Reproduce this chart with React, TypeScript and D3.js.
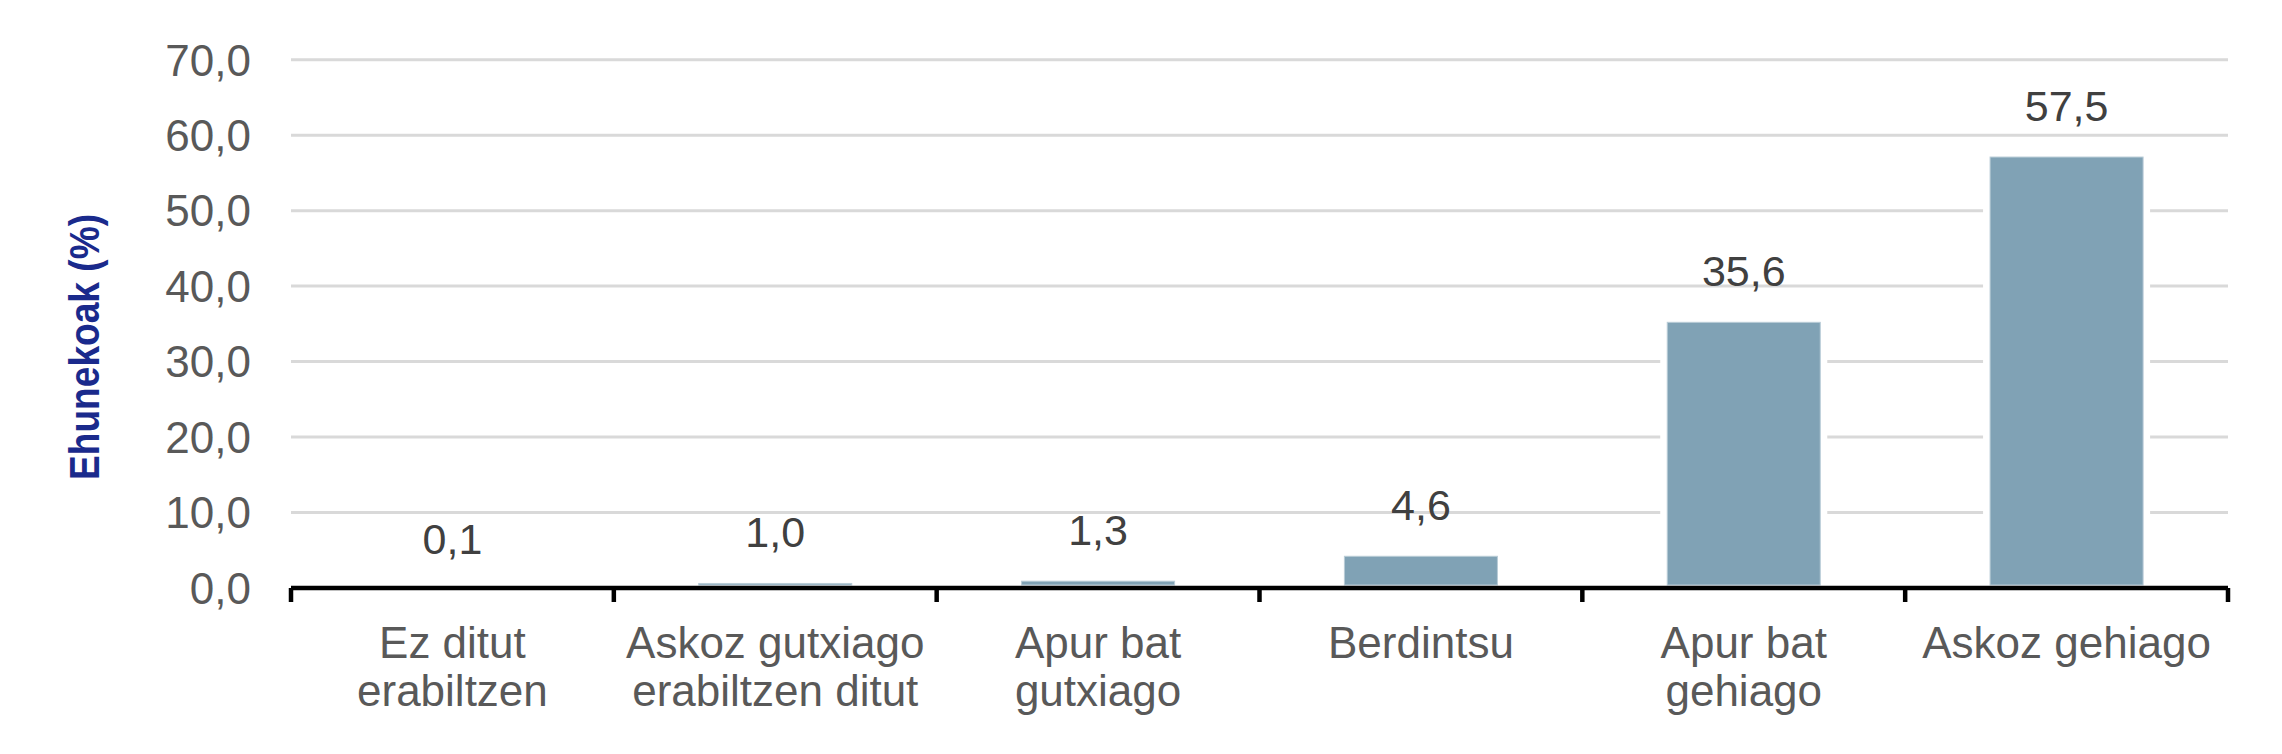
import React from "react";
import * as d3 from "d3";

const categories: string[][] = [
  ["Ez ditut", "erabiltzen"],
  ["Askoz gutxiago", "erabiltzen ditut"],
  ["Apur bat", "gutxiago"],
  ["Berdintsu"],
  ["Apur bat", "gehiago"],
  ["Askoz gehiago"],
];
const values: number[] = [0.1, 1.0, 1.3, 4.6, 35.6, 57.5];
const yTicks: number[] = [0, 10, 20, 30, 40, 50, 60, 70];
const yTitle = "Ehunekoak (%)";

const W = 2282;
const H = 754;
const left = 291;
const right = 2228;
const top = 59.7;
const bottom = 588;
const font = "'Liberation Sans', Arial, Helvetica, sans-serif";

const fmt = (v: number) => v.toFixed(1).replace(".", ",");

export default function App() {
  const keys = categories.map((_, i) => String(i));
  const x = d3
    .scaleBand<string>()
    .domain(keys)
    .range([left, right])
    .paddingInner(0.526)
    .paddingOuter(0.263);
  const y = d3.scaleLinear().domain([0, 70]).range([bottom, top]);
  const step = x.step();
  const bw = x.bandwidth();
  const boundaries = d3.range(categories.length + 1).map((i) => left + i * step);

  return (
    <div style={{ position: "absolute", left: 0, top: 0 }}>
      <svg width={W} height={H} style={{ display: "block", background: "#fff" }}>
        {yTicks
          .filter((t) => t > 0)
          .map((t) => (
            <line
              key={"g" + t}
              x1={left}
              x2={right}
              y1={y(t)}
              y2={y(t)}
              stroke="#d9d9d9"
              strokeWidth={3}
            />
          ))}
        {yTicks.map((t) => (
          <text
            key={"t" + t}
            x={251}
            y={y(t)}
            dy="0.36em"
            textAnchor="end"
            fontFamily={font}
            fontSize={44}
            fill="#595959"
          >
            {fmt(t)}
          </text>
        ))}
        {values.map((v, i) => {
          const bx = x(String(i)) as number;
          const by = y(v);
          return (
            <g key={"b" + i}>
              <rect x={bx - 7} y={by - 7} width={bw + 14} height={bottom - by + 7} fill="#ffffff" />
              <rect
                x={bx}
                y={by + 3}
                width={bw}
                height={Math.max(0, bottom - by - 6)}
                fill="#80a2b5"
                stroke="#b9ccd7"
                strokeWidth={1}
              />
            </g>
          );
        })}
        {values.map((v, i) => (
          <text
            key={"v" + i}
            x={(x(String(i)) as number) + bw / 2}
            y={y(v) - 33}
            textAnchor="middle"
            fontFamily={font}
            fontSize={43}
            fill="#404040"
          >
            {fmt(v)}
          </text>
        ))}
        <line x1={left} x2={right} y1={bottom} y2={bottom} stroke="#000" strokeWidth={4.5} />
        {boundaries.map((bx, i) => (
          <line
            key={"k" + i}
            x1={bx}
            x2={bx}
            y1={bottom}
            y2={bottom + 14}
            stroke="#000"
            strokeWidth={4.5}
          />
        ))}
        {categories.map((lines, i) => (
          <text
            key={"c" + i}
            x={(x(String(i)) as number) + bw / 2}
            y={658}
            textAnchor="middle"
            fontFamily={font}
            fontSize={44}
            fill="#595959"
          >
            {lines.map((l, j) => (
              <tspan key={j} x={(x(String(i)) as number) + bw / 2} dy={j === 0 ? 0 : 48}>
                {l}
              </tspan>
            ))}
          </text>
        ))}
        <text
          transform={`translate(99,347) rotate(-90)`}
          textAnchor="middle"
          fontFamily={font}
          fontWeight="bold"
          fontSize={42}
          textLength={266}
          lengthAdjust="spacingAndGlyphs"
          fill="#1a2a8c"
        >
          {yTitle}
        </text>
      </svg>
    </div>
  );
}
